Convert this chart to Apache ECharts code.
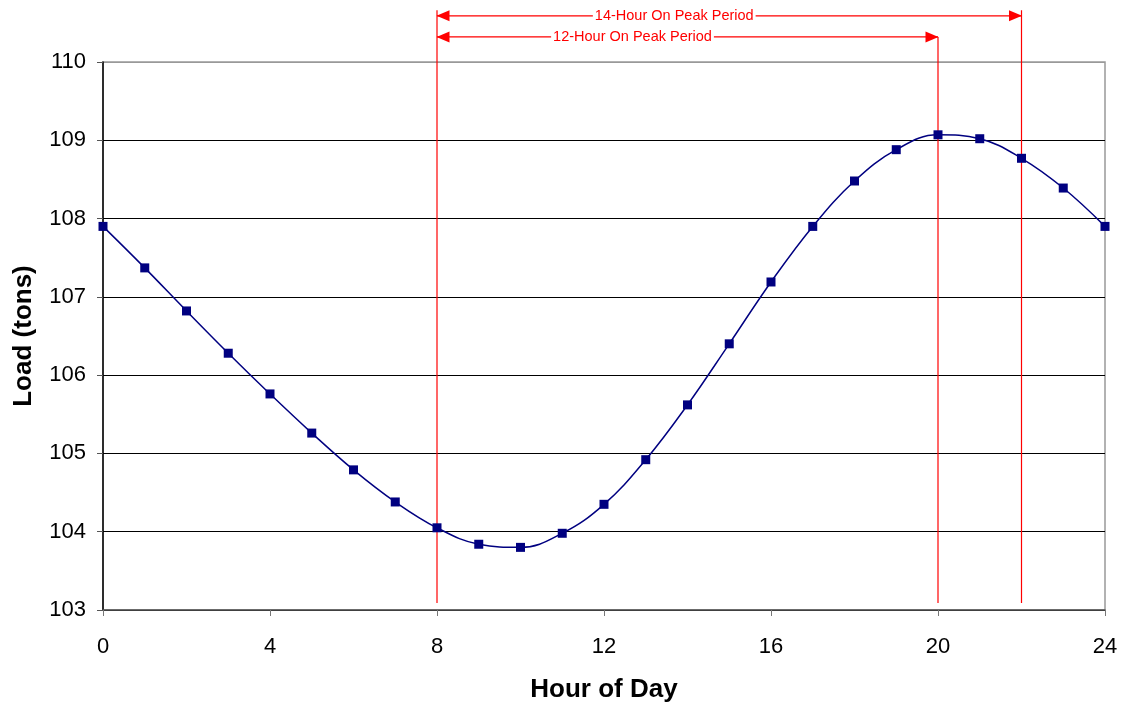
<!DOCTYPE html>
<html>
<head>
<meta charset="utf-8">
<script src="https://cdn.jsdelivr.net/npm/echarts@6/dist/echarts.min.js"></script>
<style>
  html, body { margin: 0; padding: 0; background: #fff; }
  #chart { width: 1125px; height: 702px; }
</style>
</head>
<body>
<div id="chart"></div>
<script>
// hours 0..24 and load
const hours = [0, 1, 2, 3, 4, 5, 6, 7, 8, 9, 10, 11, 12, 13, 14, 15, 16, 17, 18, 19, 20, 21, 22, 23, 24];
const load = [107.9, 107.37, 106.82, 106.28, 105.76, 105.26, 104.79, 104.38, 104.05, 103.84, 103.8, 103.98,
  104.35, 104.92, 105.62, 106.4, 107.19, 107.9, 108.48, 108.88, 109.07, 109.02, 108.77, 108.39, 107.9];
const peakHours = [8, 20, 22];
const lineTops = [110.66, 110.32, 110.66];
const lineBottom = 103.09;
const periods = [
  { name: "14-Hour On Peak Period", from: 8, to: 22, y: 110.59 },
  { name: "12-Hour On Peak Period", from: 8, to: 20, y: 110.32 },
];

const chart = echarts.init(document.getElementById("chart"));

const red = "#ff0000";
const vlines = peakHours.map((h, i) => ({
  type: "line",
  data: [[h, lineTops[i]], [h, lineBottom]],
  clip: false,
  symbol: "none",
  silent: true,
  lineStyle: { color: red, width: 1.2 },
  z: 1,
}));

// double-headed arrows with the period name near the middle
const arrows = periods.map((p) => ({
  type: "line",
  clip: false,
  silent: true,
  z: 2,
  lineStyle: { color: red, width: 1.2 },
  itemStyle: { color: red },
  symbol: "triangle",
  symbolSize: [11, 13],
  data: [
    { value: [p.from, p.y], symbolRotate: 90, symbolOffset: [6, 0] },
    {
      value: [(p.from + p.to) / 2, p.y],
      symbolSize: 0,
      label: {
        show: true,
        position: "inside",
        offset: [-55, 0],
        color: red,
        fontSize: 14.5,
        fontFamily: "Liberation Sans, Arial",
        backgroundColor: "#fff",
        padding: [0, 2],
        formatter: p.name,
      },
    },
    { value: [p.to, p.y], symbolRotate: -90, symbolOffset: [-6, 0] },
  ],
}));

const option = {
  animation: false,
  textStyle: { fontFamily: "Liberation Sans, Arial" },
  grid: {
    left: 103, right: 20, top: 62, bottom: 92,
    outerBoundsMode: "none",
    containLabel: false,
    show: true, borderColor: "#999", borderWidth: 1.5,
  },
  xAxis: {
    type: "value",
    min: 0, max: 24, interval: 4,
    name: "Hour of Day",
    nameLocation: "middle",
    nameGap: 67,
    nameTextStyle: { fontSize: 26, fontWeight: "bold", color: "#000" },
    axisLine: { lineStyle: { color: "#555", width: 1.5 } },
    axisTick: { show: true, length: 6, lineStyle: { color: "#777" } },
    axisLabel: { fontSize: 22, color: "#000", margin: 26 },
    splitLine: { show: false },
  },
  yAxis: {
    type: "value",
    min: 103, max: 110, interval: 1,
    name: "Load (tons)",
    nameLocation: "middle",
    nameGap: 66,
    nameTextStyle: { fontSize: 26, fontWeight: "bold", color: "#000" },
    axisLine: { show: true, lineStyle: { color: "#000", width: 1.5 } },
    axisTick: { show: true, length: 6, lineStyle: { color: "#555" } },
    axisLabel: { fontSize: 22, color: "#000", margin: 17 },
    splitLine: {
      show: true,
      lineStyle: { color: ["#000", "#000", "#000", "#000", "#000", "#000", "#000", "#999"], width: 1 },
    },
  },
  series: [
    ...vlines,
    ...arrows,
    {
      type: "line",
      data: hours.map((h, i) => [h, load[i]]),
      smooth: 0.4,
      symbol: "rect",
      symbolSize: 9,
      clip: false,
      itemStyle: { color: "#000080" },
      lineStyle: { color: "#000080", width: 1.5 },
      z: 5,
    },
  ],
};

chart.setOption(option);
</script>
</body>
</html>
